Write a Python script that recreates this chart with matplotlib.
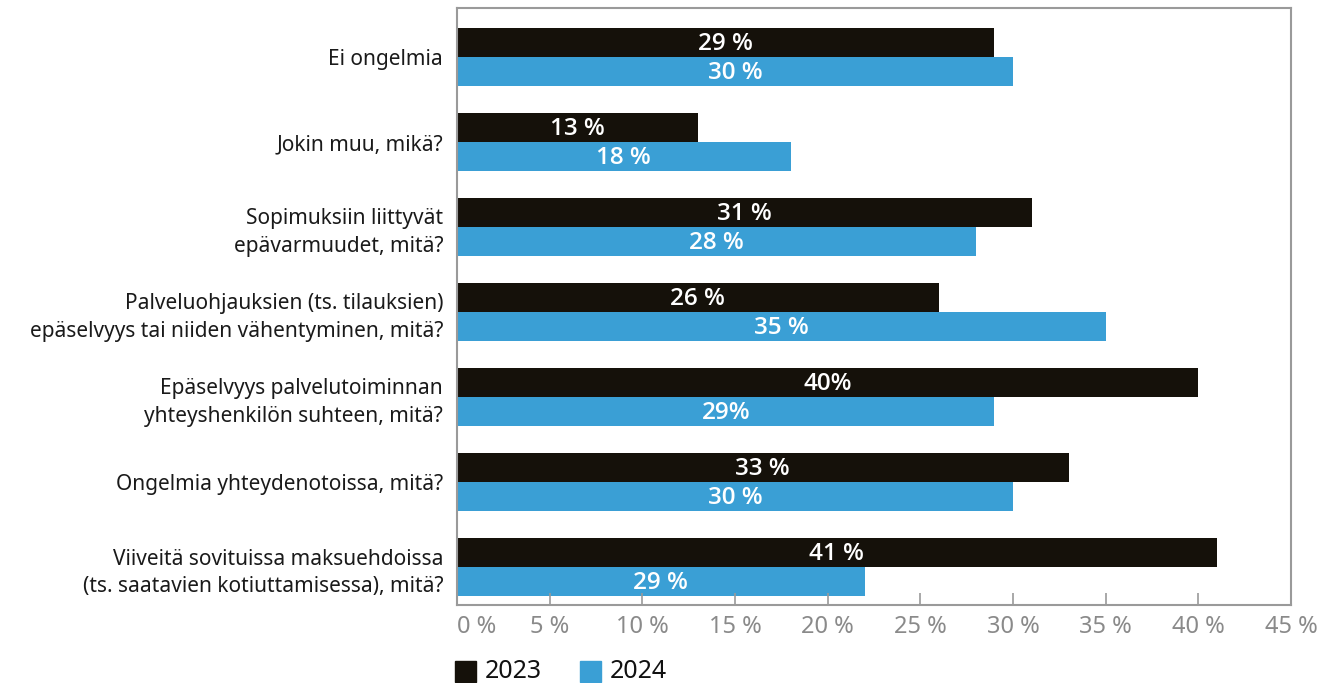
import matplotlib.pyplot as plt
import numpy as np
from matplotlib.patches import Rectangle

categories = [
    "Ei ongelmia",
    "Jokin muu, mikä?",
    "Sopimuksiin liittyvät\nepävarmuudet, mitä?",
    "Palveluohjauksien (ts. tilauksien)\nepäselvyys tai niiden vähentyminen, mitä?",
    "Epäselvyys palvelutoiminnan\nyhteyshenkilön suhteen, mitä?",
    "Ongelmia yhteydenotoissa, mitä?",
    "Viiveitä sovituissa maksuehdoissa\n(ts. saatavien kotiuttamisessa), mitä?",
]
values_2023 = [29, 13, 31, 26, 40, 33, 41]
values_2024 = [30, 18, 28, 35, 29, 30, 22]
labels_2023 = ["29 %", "13 %", "31 %", "26 %", "40%", "33 %", "41 %"]
labels_2024 = ["30 %", "18 %", "28 %", "35 %", "29%", "30 %", "29 %"]
xticks = [0, 5, 10, 15, 20, 25, 30, 35, 40, 45]
xtick_labels = ["0 %", "5 %", "10 %", "15 %", "20 %", "25 %", "30 %", "35 %", "40 %", "45 %"]
series = ["2023", "2024"]

c2023 = "#15110a"
c2024 = "#3a9fd5"
frame = "#9a9a9a"

plt.rcParams['font.family'] = ['Noto Sans', 'DejaVu Sans']

W, H = 1325, 683
fig = plt.figure(figsize=(W / 100, H / 100), dpi=100)
ax = fig.add_axes([457 / W, 1 - 605 / H, (1291 - 457) / W, (605 - 8) / H])

y = np.arange(len(categories))
h = 0.341

bars1 = ax.barh(y - h / 2, values_2023, height=h, color=c2023)
bars2 = ax.barh(y + h / 2, values_2024, height=h, color=c2024)

# value labels centred inside each bar
for b, lab in zip(list(bars1) + list(bars2), labels_2023 + labels_2024):
    ax.text(b.get_width() / 2, b.get_y() + b.get_height() / 2 + 0.02, lab, color="white",
            ha="center", va="center", fontsize=17.5, fontweight="semibold",
            family=["Open Sans", "DejaVu Sans"])

ax.set_xlim(0, 45)
ax.set_ylim(6.447, -0.576)

ax.set_yticks(y)
ax.set_yticklabels(categories, fontsize=15, color="#1a1a1a")
for t in ax.get_yticklabels():
    t.set_linespacing(1.4)
ax.tick_params(axis="y", length=0, pad=10)

ax.set_xticks(xticks)
ax.set_xticklabels(xtick_labels, fontsize=17, color="#8a8a8a")
ax.tick_params(axis="x", direction="in", length=9, color=frame, width=1.2, pad=7)
ax.get_xticklabels()[0].set_ha("left")

for s in ax.spines.values():
    s.set_color(frame)
    s.set_linewidth(1.5)

# legend drawn by hand
for x0, col, name in zip([455, 580], [c2023, c2024], series):
    fig.add_artist(Rectangle((x0 / W, 1 - 682 / H), 21 / W, 21 / H, color=col,
                             transform=fig.transFigure))
    fig.text((x0 + 30) / W, 1 - 672 / H, name, fontsize=18, va="center", ha="left",
             color="#111111")

fig.savefig("out.png", dpi=100)
